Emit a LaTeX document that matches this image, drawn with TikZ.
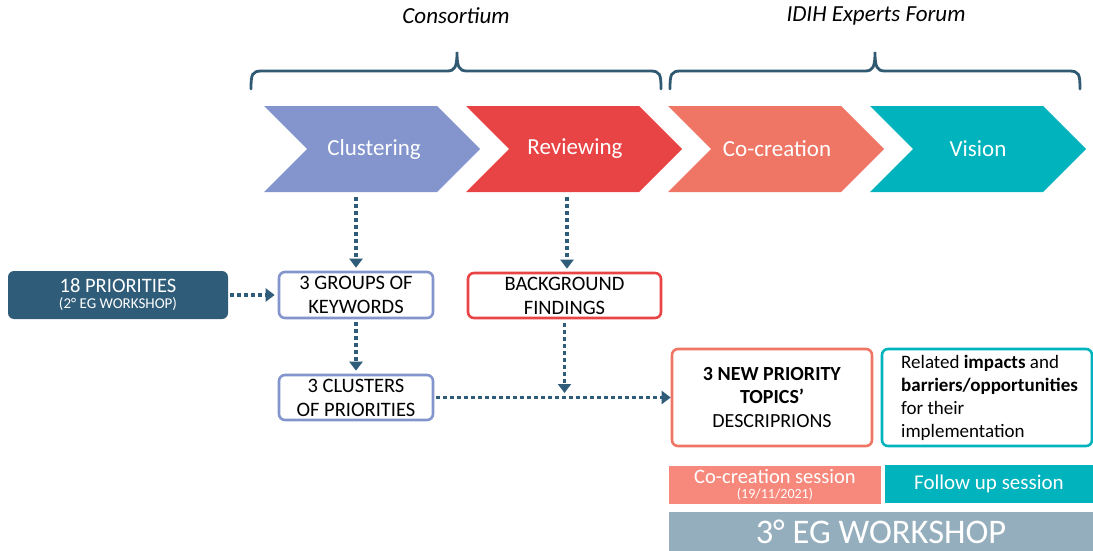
\documentclass[tikz,border=0pt]{standalone}
\usepackage{fontspec}
\setmainfont{Carlito}
\usetikzlibrary{arrows.meta,calc}
\definecolor{cclu}{HTML}{8395CC}
\definecolor{crev}{HTML}{E84446}
\definecolor{ccoc}{HTML}{EF7565}
\definecolor{cvis}{HTML}{00B3BD}
\definecolor{cdark}{HTML}{2F5C79}
\definecolor{csess}{HTML}{F7897C}
\definecolor{cws}{HTML}{95AEBD}
\definecolor{cbrace}{HTML}{2F5A72}
\newcommand\mychev[2]{\fill[#2] (#1,106) -- ++(173,0) -- ++(43,43) -- ++(-43,43) -- ++(-173,0) -- ++(43,-43) -- cycle;}
\begin{document}
\begin{tikzpicture}[x=1pt,y=-1pt,
  chevtext/.style={text=white,font=\fontsize{23}{26}\selectfont,inner sep=0pt},
  toplabel/.style={font=\fontsize{23}{26}\selectfont\itshape,inner sep=0pt},
  outbox/.style={draw=#1,line width=2.6pt,rounded corners=6pt,fill=white,align=center,
    font=\fontsize{20.5}{24}\selectfont,inner sep=0pt},
  dots/.style={draw=cdark,line width=3.5pt,dash pattern=on 3.5pt off 3.5pt,
    -{Triangle[length=9pt,width=13pt]}},
  bracestyle/.style={draw=cbrace,line width=2.8pt,line cap=round},
  bar/.style={fill=#1,inner sep=0pt,text=white,align=center}]
\useasboundingbox (0,0) rectangle (1093,551);

% top labels
\node[toplabel] (cons) at (456,16) {Consortium};
\node[toplabel] (idih) at (876,16) {IDIH Experts Forum};

% braces
\draw[bracestyle] (251,89) .. controls (251,74) and (252,71) .. (262,71) -- (447,71)
  .. controls (455,71) and (457,67) .. (457,52)
  .. controls (457,67) and (459,71) .. (467,71) -- (650,71)
  .. controls (660,71) and (661,74) .. (661,89);
\draw[bracestyle] (670,89) .. controls (670,74) and (671,71) .. (681,71) -- (865,71)
  .. controls (873,71) and (875,67) .. (875,52)
  .. controls (875,67) and (877,71) .. (885,71) -- (1069,71)
  .. controls (1079,71) and (1080,74) .. (1080,89);

% chevrons
\mychev{264}{cclu}
\mychev{466}{crev}
\mychev{668}{ccoc}
\mychev{870}{cvis}
\node[chevtext] (clu) at (374,149) {Clustering};
\node[chevtext] (rev) at (575,149) {Reviewing};
\node[chevtext] (coc) at (777,149) {Co-creation};
\node[chevtext] (vis) at (978,149) {Vision};
\coordinate (cluB) at (356,197);
\coordinate (revB) at (567,197);

% boxes
\node[fill=cdark,rounded corners=6pt,minimum width=220pt,minimum height=48pt,inner sep=0pt,
  text=white,align=center] (prio) at (118,295)
  {\fontsize{20.5}{22}\selectfont 18 PRIORITIES\\[4pt]\fontsize{15}{20}\selectfont (2° EG WORKSHOP)};
\node[outbox=cclu,minimum width=154pt,minimum height=46pt] (groups) at (356,295)
  {3 GROUPS OF\\KEYWORDS};
\node[outbox=crev,minimum width=193pt,minimum height=45pt] (bg) at (564.5,295.5)
  {BACKGROUND\\FINDINGS};
\node[outbox=cclu,minimum width=154pt,minimum height=45pt] (clusters) at (356,397.5)
  {3 CLUSTERS\\OF PRIORITIES};
\node[outbox=ccoc,minimum width=200pt,minimum height=97pt,font=\fontsize{20}{23.5}\selectfont] (new) at (772,397.5)
  {\textbf{3 NEW PRIORITY}\\\textbf{TOPICS’}\\DESCRIPRIONS};
\node[outbox=cvis,minimum width=210pt,minimum height=97pt] (rel) at (987,397.5) {};
\node[anchor=west,align=left,inner sep=0pt,font=\fontsize{19}{23}\selectfont] (reltext) at (901,398)
  {Related \textbf{impacts} and\\\textbf{barriers/opportunities}\\for their\\implementation};

% bars
\node[bar=csess,minimum width=212pt,minimum height=38pt] (cosess) at (775,485)
  {\fontsize{20.5}{21}\selectfont Co-creation session\\[3pt]\fontsize{14}{19}\selectfont (19/11/2021)};
\node[bar=cvis,minimum width=208pt,minimum height=38pt,font=\fontsize{21}{22}\selectfont] (follow) at (989,484)
  {Follow up session};
\node[bar=cws,minimum width=424pt,minimum height=39pt,font=\fontsize{34.5}{36}\selectfont] (ws) at (881,531.5)
  {3° EG WORKSHOP};

% connectors
\coordinate (join) at (564.5,398);
\draw[dots,shorten >=3pt] (cluB) -- (groups.north);
\draw[dots,shorten >=3pt] (revB) -- (revB |- bg.north);
\draw[dots,shorten >=3pt,shorten <=2pt] (prio.east) -- (groups.west);
\draw[dots,shorten >=3pt,shorten <=3pt] (groups.south) -- (clusters.north);
\draw[dots,shorten >=5pt,shorten <=4pt] (bg.south) -- (join);
\draw[dots,shorten <=2pt] (clusters.east) -- (new.west);
\end{tikzpicture}
\end{document}
